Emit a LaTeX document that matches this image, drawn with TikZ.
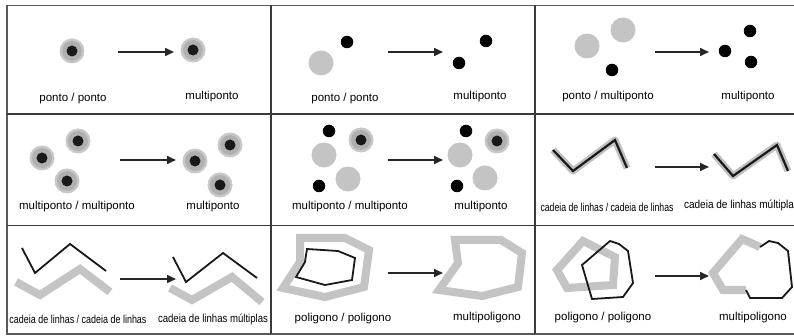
\documentclass[tikz,border=0pt]{standalone}
\usepackage{fontspec}
\usepackage{graphicx}
\setmainfont{Liberation Sans}
\usetikzlibrary{arrows.meta}
\definecolor{lgrey}{HTML}{C4C4C4}
\definecolor{hgrey}{HTML}{B0B0B0}
\definecolor{frame}{HTML}{3A3A3A}
\tikzset{
  gridline/.style={draw=frame,line width=1.8pt},
  lab/.style={inner sep=0pt,font=\fontsize{11.5}{13}\selectfont},
  conn/.style={draw=black!85,line width=1.6pt,-{Triangle[length=9pt,width=8pt]}},
  bigdot/.style={circle,fill=lgrey,minimum size=25pt,inner sep=0pt},
  blackdot/.style={circle,fill=black,minimum size=12.5pt,inner sep=0pt},
  halodot/.style={circle,inner sep=0pt,minimum size=26pt,
     path picture={\fill[hgrey!70] (path picture bounding box.center) circle (12.5pt);
                   \fill[hgrey] (path picture bounding box.center) circle (10pt);
                   \fill[black!90] (path picture bounding box.center) circle (5.5pt);}},
  greyline/.style={draw=lgrey,line width=8pt,line join=miter},
  blackline/.style={draw=black!90,line width=1.8pt,line join=miter},
  haloline/.style={draw=hgrey!80,line width=7pt,line join=round},
}
\newcommand{\fitw}[2]{\resizebox{#1}{\height}{#2}}
\begin{document}
\begin{tikzpicture}[x=1pt,y=-1pt]
\useasboundingbox (0,0) rectangle (794,336);
\fill[white] (0,0) rectangle (794,336);
% grid
\draw[gridline,draw=black!65] (794,5.5) -- (7,5.5) -- (7,334) -- (794,334);
\draw[gridline] (271,5.5) -- (271,334);
\draw[gridline] (535,5.5) -- (535,334);
\draw[gridline] (7,114) -- (794,114);
\draw[gridline] (7,225.5) -- (794,225.5);

% ---------- cell 1
\node[halodot] (c1a) at (72,51) {};
\node[halodot] (c1b) at (193,50) {};
\coordinate (c1s) at (118,52); \coordinate (c1e) at (174,52);
\draw[conn] (c1s) -- (c1e);
\node[lab] (c1l) at (73,99) {ponto / ponto};
\node[lab] (c1r) at (212,97) {multiponto};

% ---------- cell 2
\node[bigdot] (c2g) at (321,63) {};
\node[blackdot] (c2k) at (347,42) {};
\coordinate (c2s) at (388,52); \coordinate (c2e) at (443,52);
\draw[conn] (c2s) -- (c2e);
\node[blackdot] (c2r1) at (486,41) {};
\node[blackdot] (c2r2) at (459,63) {};
\node[lab] (c2l) at (345,99) {ponto / ponto};
\node[lab] (c2r) at (480,97) {multiponto};

% ---------- cell 3
\node[bigdot] (c3g1) at (587,46) {};
\node[bigdot] (c3g2) at (623,30) {};
\node[blackdot] (c3k) at (612,70) {};
\coordinate (c3s) at (655,52); \coordinate (c3e) at (709,52);
\draw[conn] (c3s) -- (c3e);
\node[blackdot] (c3r1) at (750,31) {};
\node[blackdot] (c3r2) at (725,51) {};
\node[blackdot] (c3r3) at (751,62) {};
\node[lab] (c3l) at (608,97) {ponto / multiponto};
\node[lab] (c3r) at (748,97) {multiponto};

% ---------- cell 4
\node[halodot] (c4a) at (42,158) {};
\node[halodot] (c4b) at (78,141) {};
\node[halodot] (c4c) at (67,181) {};
\coordinate (c4s) at (120,160); \coordinate (c4e) at (176,160);
\draw[conn] (c4s) -- (c4e);
\node[halodot] (c4d) at (195,161) {};
\node[halodot] (c4f) at (230,145) {};
\node[halodot] (c4g) at (220,185) {};
\node[lab] (c4l) at (77,207) {multiponto / multiponto};
\node[lab] (c4r) at (213,207) {multiponto};

% ---------- cell 5
\node[bigdot] (c5g1) at (324,155) {};
\node[bigdot] (c5g2) at (348,179) {};
\node[blackdot] (c5k1) at (329,131) {};
\node[blackdot] (c5k2) at (319,186) {};
\node[halodot] (c5h) at (361,140) {};
\coordinate (c5s) at (388,160); \coordinate (c5e) at (443,160);
\draw[conn] (c5s) -- (c5e);
\node[bigdot] (c5g3) at (460,155) {};
\node[bigdot] (c5g4) at (485,178) {};
\node[blackdot] (c5k3) at (466,131) {};
\node[blackdot] (c5k4) at (457,186) {};
\node[halodot] (c5h2) at (497,141) {};
\node[lab] (c5l) at (350,207) {multiponto / multiponto};
\node[lab] (c5r) at (481,207) {multiponto};

% ---------- cell 6
\draw[haloline] (553,150) -- (573,171) -- (615,140) -- (627,168);
\draw[blackline,line width=2.2pt] (553,150) -- (573,171) -- (615,140) -- (627,168);
\coordinate (c6s) at (655,167); \coordinate (c6e) at (709,167);
\draw[conn] (c6s) -- (c6e);
\draw[haloline] (714,154) -- (733,176) -- (777,145) -- (788,171);
\draw[blackline,line width=2.2pt] (714,154) -- (733,176) -- (777,145) -- (788,171);
\node[lab] (c6l) at (607,207) {\fitw{133pt}{cadeia de linhas / cadeia de linhas}};
\node[lab] (c6r) at (739,205) {\fitw{110pt}{cadeia de linhas múltipla}};

% ---------- cell 7
\draw[greyline] (16,282) -- (40,295) -- (80,269) -- (110,292);
\draw[blackline] (22,248) -- (35,273) -- (70,244) -- (106,271);
\coordinate (c7s) at (120,279); \coordinate (c7e) at (176,279);
\draw[conn] (c7s) -- (c7e);
\draw[greyline] (170,288) -- (192,300) -- (232,277) -- (262,302);
\draw[blackline] (173,257) -- (186,282) -- (223,253) -- (257,278);
\node[lab] (c7l) at (78,319) {\fitw{137pt}{cadeia de linhas / cadeia de linhas}};
\node[lab] (c7r) at (213,319) {\fitw{110pt}{cadeia de linhas múltiplas}};

% ---------- cell 8
\draw[greyline] (300,238) -- (345,238) -- (369,250) -- (364,287) -- (325,297) -- (283,288) -- (300,262) -- cycle;
\draw[blackline] (307,249) -- (338,251) -- (355,258) -- (352,280) -- (325,285) -- (296,277) -- (305,262) -- (306,255) -- cycle;
\coordinate (c8s) at (388,273); \coordinate (c8e) at (443,273);
\draw[conn] (c8s) -- (c8e);
\draw[greyline] (455,240) -- (501,240) -- (522,253) -- (518,287) -- (482,296) -- (439,290) -- (458,263) -- cycle;
\node[lab] (c8l) at (343,319) {poligono / poligono};
\node[lab] (c8r) at (487,318) {multipoligono};

% ---------- cell 9
\draw[greyline] (583,241) -- (615,257) -- (613,285) -- (567,288) -- (557,270) -- cycle;
\draw[blackline] (582,265) -- (610,241) -- (619,244) -- (628,251) -- (633,283) -- (623,297) -- (592,299) -- cycle;
\coordinate (c9s) at (655,276); \coordinate (c9e) at (709,276);
\draw[conn] (c9s) -- (c9e);
\draw[greyline,line join=miter] (760,247) -- (742,239) -- (713,273) -- (723,290) -- (746,290);
\draw[blackline] (746,290) -- (750,298) -- (782,298) -- (792,287) -- (788,251) -- (778,243) -- (769,241) -- (760,247);
\node[lab] (c9l) at (603,318) {poligono / poligono};
\node[lab] (c9r) at (753,318) {multipoligono};
\end{tikzpicture}
\end{document}
